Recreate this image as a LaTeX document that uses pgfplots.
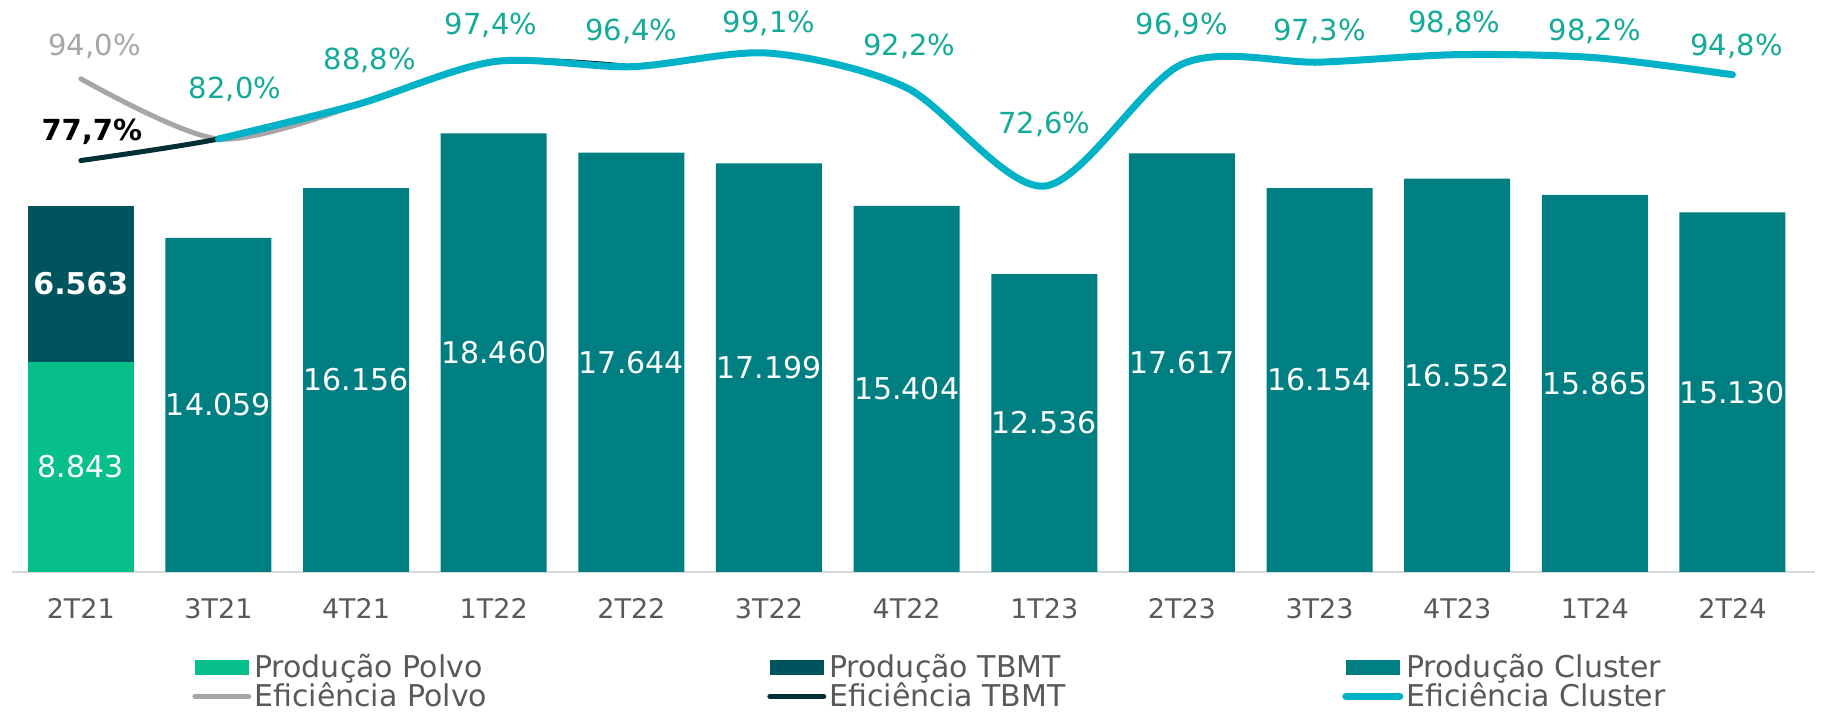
\documentclass[border=0pt]{standalone}
\usepackage{fontspec}
\setmainfont{DejaVu Sans}
\usepackage{pgfplots}
\usepackage{pgfplotstable}
\pgfplotsset{compat=1.18}

\definecolor{cpolvo}{RGB}{7,191,139}
\definecolor{ctbmt}{RGB}{0,84,94}
\definecolor{ccluster}{RGB}{0,127,131}
\definecolor{lpolvo}{RGB}{166,166,166}
\definecolor{ltbmt}{RGB}{0,48,54}
\definecolor{lcluster}{RGB}{0,178,200}
\definecolor{pctlabel}{RGB}{20,170,152}
\definecolor{txtgray}{RGB}{89,89,89}
\definecolor{axisgray}{RGB}{217,217,217}

% produção 2T21 (empilhada)
\pgfplotstableread{
x polvo tbmt
0 8843 6563
}\prodinicio

% produção cluster
\pgfplotstableread{
x v
1 14059
2 16156
3 18460
4 17644
5 17199
6 15404
7 12536
8 17617
9 16154
10 16552
11 15865
12 15130
}\prodcluster

% eficiências
\pgfplotstableread{
x v
0 94.0
1 82.0
2 88.8
}\efpolvo

\pgfplotstableread{
x v
0 77.7
1 82.0
2 88.8
3 97.4
4 96.4
}\eftbmt

% lx, ly = posição do rótulo
\pgfplotstableread{
x v lx ly
1 82.0 1.12 91.8
2 88.8 2.1 97.6
3 97.4 2.98 104.6
4 96.4 4 103.4
5 99.1 5 105.0
6 92.2 6.02 100.4
7 72.6 7 84.9
8 96.9 8 104.6
9 97.3 9 103.4
10 98.8 9.98 105.0
11 98.2 11 103.4
12 94.8 12.03 100.4
}\efcluster

\pgfplotsset{
  /pgf/number format/assume math mode=true,
  barlabel/.style={draw=none, mark=none, nodes near coords, point meta=explicit,
    nodes near coords={\pgfmathprintnumber[fixed, precision=0, 1000 sep={.}]{\pgfplotspointmeta}},
    every node near coord/.append style={anchor=center, text=white, font=\fontsize{15}{18}\selectfont}},
  pctlabel/.style={draw=none, mark=none, nodes near coords, point meta=explicit,
    nodes near coords={\pgfmathprintnumber[fixed, fixed zerofill, precision=1, use comma]{\pgfplotspointmeta}\%},
    every node near coord/.append style={anchor=center, font=\fontsize{14.5}{17}\selectfont}},
  boxlegend/.style={legend image code/.code={\fill[##1, draw=none] (0pt,-3.75pt) rectangle (27pt,3.75pt);}},
  linelegend/.style={legend image code/.code={\draw[##1] (0pt,0pt) -- (27pt,0pt);}},
}

\begin{document}
\begin{tikzpicture}
\begin{axis}[
  at={(0,0)}, anchor=south west,
  width=901.5pt, height=283pt, scale only axis,
  xmin=-0.5, xmax=12.6, ymin=0, ymax=23818,
  axis x line=bottom, axis y line=none,
  x axis line style={draw=axisgray, line width=1pt, -},
  xtick={0,...,12},
  xticklabels={2T21,3T21,4T21,1T22,2T22,3T22,4T22,1T23,2T23,3T23,4T23,1T24,2T24},
  xtick style={draw=none},
  xticklabel style={font=\fontsize{13.5}{16}\selectfont, text=txtgray, yshift=-7.6pt},
  clip=false,
]
\addplot[ybar, bar width=53pt, bar shift=0pt, fill=ctbmt, draw=none]
  table[x=x, y expr=\thisrow{polvo}+\thisrow{tbmt}]{\prodinicio};
\addplot[ybar, bar width=53pt, bar shift=0pt, fill=cpolvo, draw=none]
  table[x=x, y=polvo]{\prodinicio};
\addplot[ybar, bar width=53pt, bar shift=0pt, fill=ccluster, draw=none]
  table[x=x, y=v]{\prodcluster};

\addplot[barlabel] table[x=x, y expr=\thisrow{v}/2, meta=v]{\prodcluster};
\addplot[barlabel] table[x=x, y expr=\thisrow{polvo}/2, meta=polvo]{\prodinicio};
\addplot[barlabel, every node near coord/.append style={font=\fontsize{15}{18}\selectfont\bfseries}]
  table[x=x, y expr=\thisrow{polvo}+\thisrow{tbmt}/2, meta=tbmt]{\prodinicio};
\end{axis}

\begin{axis}[
  at={(0,0)}, anchor=south west,
  width=901.5pt, height=283pt, scale only axis,
  xmin=-0.5, xmax=12.6, ymin=-4.3, ymax=108.5,
  axis lines=none, clip=false,
  legend columns=3,
  legend cell align=left,
  legend style={at={(0.0998,-0.14)}, anchor=north west, draw=none, fill=none,
    inner sep=0pt, row sep=-2pt,
    font=\fontsize{15}{18}\selectfont, text=txtgray,
    nodes={inner sep=1.5pt}},
]
\addlegendimage{boxlegend, fill=cpolvo}
\addlegendimage{boxlegend, fill=ctbmt}
\addlegendimage{boxlegend, fill=ccluster}
\addplot[linelegend, smooth, lpolvo, line width=2.5pt, line cap=round] table[x=x, y=v]{\efpolvo};
\addplot[linelegend, smooth, ltbmt, line width=2.5pt, line cap=round] table[x=x, y=v]{\eftbmt};
\addplot[linelegend, smooth, lcluster, line width=3.5pt, line cap=round] table[x=x, y=v]{\efcluster};

\addplot[pctlabel, forget plot, every node near coord/.append style={text=pctlabel}]
  table[x=lx, y=ly, meta=v]{\efcluster};
\addplot[pctlabel, forget plot, every node near coord/.append style={text=lpolvo}]
  coordinates {(0.1,100.4) [94.0]};
\addplot[pctlabel, forget plot, every node near coord/.append style={text=black, font=\fontsize{14.5}{17}\selectfont\bfseries}]
  coordinates {(0.08,83.5) [77.7]};

\legend{\makebox[255pt][l]{Produção Polvo}, \makebox[255pt][l]{Produção TBMT}, Produção Cluster,
  \makebox[255pt][l]{Eficiência Polvo}, \makebox[255pt][l]{Eficiência TBMT}, Eficiência Cluster}
\end{axis}
\pgfresetboundingbox
\path (-6pt,-72pt) rectangle (906pt,286pt);
\end{tikzpicture}
\end{document}
